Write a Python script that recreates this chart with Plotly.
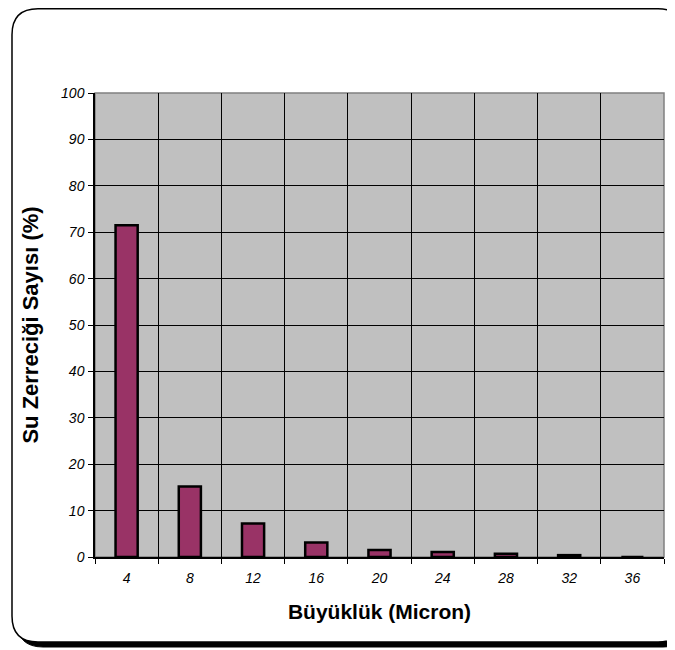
import plotly.graph_objects as go

categories = ["4", "8", "12", "16", "20", "24", "28", "32", "36"]
values = [71.5, 15.2, 7.2, 3.1, 1.5, 1.1, 0.7, 0.4, 0]
y_ticks = [0, 10, 20, 30, 40, 50, 60, 70, 80, 90, 100]

W, H = 675, 650
L, R, T, B = 87, 19, 85, 101
PW = W - L - R
PH = H - T - B


def px(x):
    return (x - L) / PW


def py(y):
    return (H - B - y) / PH


def rounded(x0, y0, x1, y1, r):
    pts = [
        ("M", px(x0 + r), py(y0)),
        ("L", px(x1 - r), py(y0)),
        ("Q", px(x1), py(y0), px(x1), py(y0 + r)),
        ("L", px(x1), py(y1 - r)),
        ("Q", px(x1), py(y1), px(x1 - r), py(y1)),
        ("L", px(x0 + r), py(y1)),
        ("Q", px(x0), py(y1), px(x0), py(y1 - r)),
        ("L", px(x0), py(y0 + r)),
        ("Q", px(x0), py(y0), px(x0 + r), py(y0)),
    ]
    s = ""
    for p in pts:
        s += p[0] + " " + " ".join(f"{v:.5f}" for v in p[1:]) + " "
    return s + "Z"


fig = go.Figure(
    go.Bar(
        x=categories,
        y=values,
        marker=dict(color="#993366", line=dict(color="black", width=2.5)),
    )
)

shapes = [
    dict(type="path", xref="paper", yref="paper", layer="below",
         path=rounded(9, 5, 681, 639, 26), fillcolor="black",
         line=dict(color="black", width=1)),
    dict(type="path", xref="paper", yref="paper", layer="below",
         path=rounded(4, 0.8, 676, 634, 26), fillcolor="white",
         line=dict(color="black", width=1.5)),
    dict(type="rect", xref="paper", yref="paper", layer="below",
         x0=0, x1=1, y0=0, y1=1, fillcolor="#C0C0C0",
         line=dict(color="#808080", width=1.5)),
]

tick_font = dict(family="Arial, Liberation Sans", size=14, color="black", style="italic")
xtitle_font = dict(family="Arial, Liberation Sans", size=21, color="black", weight="bold")
ytitle_font = dict(family="Arial, Liberation Sans", size=22, color="black", weight="bold")

fig.update_layout(
    width=W,
    height=H,
    margin=dict(l=L, r=R, t=T, b=B, autoexpand=False),
    paper_bgcolor="white",
    plot_bgcolor="rgba(0,0,0,0)",
    bargap=0.65,
    showlegend=False,
    shapes=shapes,
    xaxis=dict(
        type="category",
        tickson="boundaries",
        showgrid=True,
        gridcolor="black",
        gridwidth=1,
        ticks="outside",
        ticklen=5,
        tickcolor="black",
        showline=True,
        linecolor="black",
        linewidth=1.5,
        tickfont=tick_font,
        ticklabelstandoff=7,
        title=dict(text="Büyüklük (Micron)", font=xtitle_font, standoff=20),
        automargin=False,
    ),
    yaxis=dict(
        range=[0, 100],
        tickvals=y_ticks,
        showgrid=True,
        gridcolor="black",
        gridwidth=1,
        zeroline=False,
        ticks="outside",
        ticklen=5,
        tickcolor="black",
        showline=True,
        linecolor="black",
        linewidth=1.5,
        tickfont=tick_font,
        ticklabelstandoff=1,
        title=dict(text="Su Zerreciği Sayısı (%)", font=ytitle_font, standoff=16),
        automargin=False,
    ),
)

fig.write_html("out.html")
